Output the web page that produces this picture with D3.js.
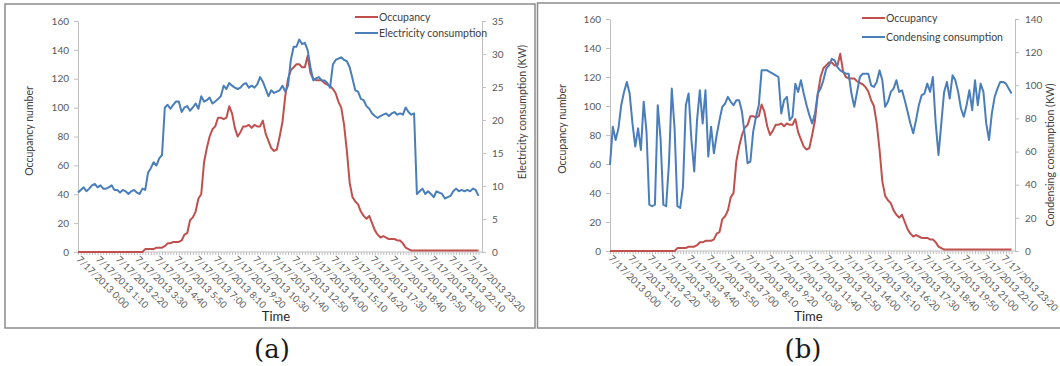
<!DOCTYPE html>
<html>
<head>
<meta charset="utf-8">
<script src="https://cdn.jsdelivr.net/npm/d3@7"></script>
<style>
  body { margin: 0; background: #fff; }
  svg { display: block; font-family: Lato, "Open Sans", sans-serif; }
</style>
</head>
<body>
<svg id="chart" width="1060" height="366"></svg>
<script>
// x categories: one reading every 10 minutes on 7/17/2013
var times = d3.range(144).map(function (i) {
  return "7/17/2013 " + Math.floor(i / 6) + ":" + (i % 6) + "0";
});

// labelled categories on the time axis
var tickLabels = ["7/17/2013 0:00", "7/17/2013 1:10", "7/17/2013 2:20", "7/17/2013 3:30",
  "7/17/2013 4:40", "7/17/2013 5:50", "7/17/2013 7:00", "7/17/2013 8:10", "7/17/2013 9:20",
  "7/17/2013 10:30", "7/17/2013 11:40", "7/17/2013 12:50", "7/17/2013 14:00", "7/17/2013 15:10",
  "7/17/2013 16:20", "7/17/2013 17:30", "7/17/2013 18:40", "7/17/2013 19:50", "7/17/2013 21:00",
  "7/17/2013 22:10", "7/17/2013 23:20"];

var occupancyTicks = [0, 20, 40, 60, 80, 100, 120, 140, 160];
var electricityTicks = [0, 5, 10, 15, 20, 25, 30, 35];
var condensingTicks = [0, 20, 40, 60, 80, 100, 120, 140];

// occupancy number (same in both panels)
var occupancy = [
  0, 0, 0, 0, 0, 0, 0, 0, 0, 0, 0, 0, 0, 0, 0, 0, 0, 0, 0, 0, 0, 0, 0, 0,
  2, 2, 2, 2, 3, 3, 3, 4, 6, 6, 7, 7, 7,
  8, 12, 13, 22, 24, 28, 37, 40, 62, 72,
  80, 85, 87, 93, 93, 92, 93, 101, 96, 86,
  80, 83, 87, 87, 88, 86, 88, 87, 87, 91,
  82, 77, 72, 70, 71, 80, 90, 108, 120, 126,
  128, 130, 130, 128, 128, 136, 124, 120, 119, 119,
  119, 117, 116, 115, 113, 110, 104, 100, 88, 70,
  48, 38, 35, 33, 28, 25, 23, 25, 20, 15,
  12, 10, 11, 10, 9, 9, 9, 8, 8, 6,
  3, 2, 1,
  1, 1, 1, 1, 1, 1, 1, 1, 1, 1, 1, 1, 1, 1, 1, 1, 1, 1, 1, 1, 1, 1, 1, 1
];

// electricity consumption (KW), panel (a)
var electricity = [
  9.0, 9.4, 9.8, 9.2, 9.6, 10.1, 10.3, 9.8, 10.1, 9.6,
  9.6, 9.8, 10.1, 9.4, 9.4, 9.0, 9.4, 9.2, 8.8, 9.2,
  9.4, 9.0, 8.8, 9.6, 9.4, 12.0, 12.7, 13.6, 13.1, 14.2,
  14.7, 21.9, 22.3, 21.7, 22.3, 22.8, 22.8, 21.2, 21.9, 22.1,
  21.4, 21.9, 22.5, 21.7, 23.6, 22.8, 23.0, 23.4, 22.5, 22.8,
  23.2, 23.6, 25.2, 24.7, 25.6, 25.2, 24.9, 24.7, 24.9, 25.4,
  25.6, 24.9, 25.2, 24.9, 25.4, 26.5, 25.8, 24.7, 23.6, 24.5,
  24.1, 24.3, 24.5, 25.2, 24.3, 25.2, 29.1, 31.1, 31.1, 32.2,
  31.5, 31.7, 30.6, 28.0, 26.0, 26.3, 26.5, 26.0, 26.0, 25.6,
  24.9, 28.4, 29.1, 29.3, 29.5, 29.1, 28.9, 28.0, 26.3, 24.5,
  24.3, 23.2, 23.0, 22.1, 21.7, 21.0, 20.6, 20.3, 20.6, 20.8,
  21.0, 20.6, 21.0, 21.2, 20.8, 21.0, 20.8, 21.9, 21.2, 20.8,
  21.0, 8.8, 9.2, 9.6, 8.8, 9.2, 8.8, 8.3, 9.2, 9.0,
  8.8, 8.1, 8.3, 8.5, 9.2, 9.6, 9.2, 9.4, 9.2, 9.4,
  9.2, 9.6, 9.4, 8.5
];

// condensing consumption (KW), panel (b)
var condensing = [
  52, 75, 67, 74, 88, 96, 102, 95, 77, 63,
  74, 61, 90, 72, 28, 27, 28, 88, 68, 28,
  27, 53, 98, 74, 27, 26, 39, 88, 95, 67,
  48, 79, 97, 77, 97, 57, 75, 59, 70, 79,
  87, 89, 93, 90, 88, 91, 91, 84, 70, 53,
  54, 72, 81, 88, 109, 109, 109, 108, 107, 106,
  105, 83, 91, 93, 79, 81, 101, 96, 103, 95,
  88, 82, 77, 83, 95, 98, 103, 110, 112, 116,
  115, 111, 109, 108, 107, 107, 95, 87, 96, 105,
  107, 107, 107, 100, 99, 102, 109, 103, 87, 90,
  96, 98, 103, 96, 97, 91, 84, 77, 71, 79,
  88, 94, 95, 101, 96, 105, 77, 58, 77, 96,
  102, 92, 106, 103, 96, 86, 81, 88, 97, 85,
  103, 88, 101, 96, 77, 67, 83, 93, 98, 102,
  102, 101, 98, 95
];

var svg = d3.select("#chart");
var red = "#c0504d", blue = "#4a7ebb";
var axisColor = "#bfbfbf", textColor = "#595959";

function drawPanel(p) {
  var g = svg.append("g");

  // panel frame
  g.append("rect")
    .attr("x", p.frame[0]).attr("y", p.frame[1])
    .attr("width", p.frame[2]).attr("height", p.frame[3])
    .attr("fill", "none").attr("stroke", "#8c8c8c").attr("stroke-width", 1.5);

  var x = d3.scalePoint().domain(times).range([p.left, p.dataEnd]);
  var yL = d3.scaleLinear().domain([0, 160]).range([p.bottom, p.top]);
  var yR = d3.scaleLinear().domain([0, p.rightTicks[p.rightTicks.length - 1]]).range([p.bottom, p.top]);

  // left axis
  var ax = g.append("g")
    .attr("transform", "translate(" + p.left + ",0)")
    .call(d3.axisLeft(yL).tickValues(occupancyTicks).tickSize(4).tickSizeOuter(0).tickPadding(5));
  // right axis
  var ar = g.append("g")
    .attr("transform", "translate(" + p.right + ",0)")
    .call(d3.axisRight(yR).tickValues(p.rightTicks).tickSize(4).tickSizeOuter(0).tickPadding(6));
  // bottom axis: small tick on every category
  var ab = g.append("g")
    .attr("transform", "translate(0," + p.bottom + ")")
    .call(d3.axisBottom(x).tickValues(times).tickSize(3).tickSizeOuter(0).tickFormat(""));
  ab.select(".domain").remove();
  g.append("line")
    .attr("x1", p.left).attr("x2", p.right)
    .attr("y1", p.bottom).attr("y2", p.bottom)
    .attr("stroke", axisColor);

  [ax, ar, ab].forEach(function (a) {
    a.selectAll(".domain, line").attr("stroke", axisColor);
    a.selectAll("text").attr("fill", textColor).style("font-size", "10px").style("font-family", "Lato");
  });

  // rotated time labels
  g.selectAll(".tlabel")
    .data(tickLabels)
    .enter().append("text")
      .attr("class", "tlabel")
      .attr("transform", function (d) { return "translate(" + (x(d) - 2) + "," + (p.bottom + 8) + ") rotate(45)"; })
      .attr("fill", textColor)
      .style("font-size", "9.6px")
      .text(function (d) { return d; });

  // series
  var lineL = d3.line().x(function (d, i) { return x(times[i]); }).y(function (d) { return yL(d); });
  var lineR = d3.line().x(function (d, i) { return x(times[i]); }).y(function (d) { return yR(d); });
  g.append("path").datum(occupancy).attr("d", lineL)
    .attr("fill", "none").attr("stroke", red).attr("stroke-width", 2).attr("stroke-linejoin", "round");
  g.append("path").datum(p.series).attr("d", lineR)
    .attr("fill", "none").attr("stroke", blue).attr("stroke-width", 2).attr("stroke-linejoin", "round");

  // axis titles
  g.append("text")
    .attr("transform", "translate(" + p.leftTitle[0] + "," + p.leftTitle[1] + ") rotate(-90)")
    .attr("text-anchor", "middle").attr("fill", "#404040").style("font-size", "10.5px")
    .text("Occupancy number");
  g.append("text")
    .attr("transform", "translate(" + p.rightTitle[0] + "," + p.rightTitle[1] + ") rotate(-90)")
    .attr("text-anchor", "middle").attr("fill", "#404040").style("font-size", "10.5px")
    .text(p.name + " (KW)");
  g.append("text")
    .attr("x", (p.left + p.right) / 2 - 4).attr("y", 321)
    .attr("text-anchor", "middle").attr("fill", "#262626").style("font-size", "13px")
    .text("Time");

  // legend
  var leg = g.selectAll(".leg")
    .data([{ label: "Occupancy", color: red }, { label: p.name, color: blue }])
    .enter().append("g")
      .attr("transform", function (d, i) { return "translate(" + p.legend[0] + "," + (p.legend[1] + i * p.legend[2]) + ")"; });
  leg.append("line").attr("x1", 0).attr("x2", 23).attr("stroke", function (d) { return d.color; }).attr("stroke-width", 2);
  leg.append("text").attr("x", 24).attr("dy", "0.35em").attr("fill", "#404040")
    .style("font-size", "10.5px").text(function (d) { return d.label; });

  // panel caption
  svg.append("text")
    .attr("x", p.caption).attr("y", 358)
    .attr("text-anchor", "middle").attr("fill", "#1a1a1a")
    .style("font-family", "'DejaVu Serif', serif").style("font-size", "26px")
    .text(p.tag);
}

drawPanel({
  frame: [5, 4, 530, 324], left: 78, right: 482, dataEnd: 478.5, top: 21, bottom: 252,
  rightTicks: electricityTicks, series: electricity, name: "Electricity consumption",
  leftTitle: [33, 131], rightTitle: [526, 112], legend: [355, 17, 16], caption: 272, tag: "(a)"
});
drawPanel({
  frame: [537.5, 3, 530, 325], left: 610, right: 1015, dataEnd: 1011.5, top: 19, bottom: 251,
  rightTicks: condensingTicks, series: condensing, name: "Condensing consumption",
  leftTitle: [566, 129], rightTitle: [1054, 155], legend: [862, 18, 19], caption: 803, tag: "(b)"
});
</script>
</body>
</html>
